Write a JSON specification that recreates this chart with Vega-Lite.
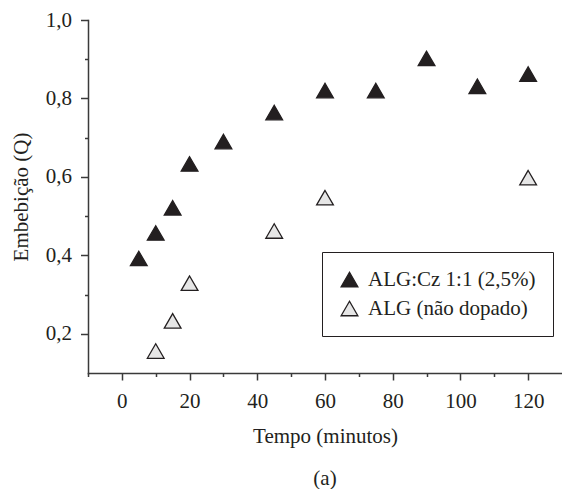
{
  "$schema": "https://vega.github.io/schema/vega-lite/v6.json",
  "autosize": {"type": "none"},
  "padding": {"left": 88, "top": 20, "right": 0, "bottom": 116},
  "width": 474,
  "height": 353,
  "background": "white",
  "title": {
    "text": "(a)",
    "orient": "bottom",
    "anchor": "middle",
    "font": "Liberation Serif",
    "fontSize": 21,
    "fontWeight": "normal",
    "color": "#231f20",
    "offset": 22
  },
  "data": {
    "values": [
      {"t": 5, "Q": 0.392, "serie": "ALG:Cz 1:1 (2,5%)"},
      {"t": 10, "Q": 0.457, "serie": "ALG:Cz 1:1 (2,5%)"},
      {"t": 15, "Q": 0.521, "serie": "ALG:Cz 1:1 (2,5%)"},
      {"t": 20, "Q": 0.633, "serie": "ALG:Cz 1:1 (2,5%)"},
      {"t": 30, "Q": 0.690, "serie": "ALG:Cz 1:1 (2,5%)"},
      {"t": 45, "Q": 0.764, "serie": "ALG:Cz 1:1 (2,5%)"},
      {"t": 60, "Q": 0.820, "serie": "ALG:Cz 1:1 (2,5%)"},
      {"t": 75, "Q": 0.820, "serie": "ALG:Cz 1:1 (2,5%)"},
      {"t": 90, "Q": 0.902, "serie": "ALG:Cz 1:1 (2,5%)"},
      {"t": 105, "Q": 0.831, "serie": "ALG:Cz 1:1 (2,5%)"},
      {"t": 120, "Q": 0.862, "serie": "ALG:Cz 1:1 (2,5%)"},
      {"t": 10, "Q": 0.156, "serie": "ALG (não dopado)"},
      {"t": 15, "Q": 0.233, "serie": "ALG (não dopado)"},
      {"t": 20, "Q": 0.329, "serie": "ALG (não dopado)"},
      {"t": 45, "Q": 0.462, "serie": "ALG (não dopado)"},
      {"t": 60, "Q": 0.547, "serie": "ALG (não dopado)"},
      {"t": 120, "Q": 0.598, "serie": "ALG (não dopado)"}
    ]
  },
  "mark": {
    "type": "point",
    "shape": "triangle-up",
    "filled": true,
    "size": 280,
    "stroke": "#231f20",
    "strokeWidth": 1.3,
    "opacity": 1
  },
  "encoding": {
    "x": {
      "field": "t",
      "type": "quantitative",
      "scale": {"domain": [-10, 130], "nice": false, "zero": false},
      "axis": {
        "title": "Tempo (minutos)",
        "values": [-10, 0, 10, 20, 30, 40, 50, 60, 70, 80, 90, 100, 110, 120],
        "labelExpr": "datum.value % 20 === 0 ? datum.label : ''",
        "tickSize": {"condition": {"test": "datum.value % 20 === 0", "value": 7}, "value": 3.5},
        "grid": false,
        "labelPadding": 10,
        "labelFlush": false,
        "labelOverlap": false,
        "titlePadding": 14
      }
    },
    "y": {
      "field": "Q",
      "type": "quantitative",
      "scale": {"domain": [0.1, 1.0], "nice": false, "zero": false},
      "axis": {
        "title": "Embebição (Q)",
        "values": [0.2, 0.3, 0.4, 0.5, 0.6, 0.7, 0.8, 0.9, 1.0],
        "labelExpr": "round(datum.value * 10) % 2 === 0 ? replace(format(datum.value, '.1f'), '.', ',') : ''",
        "tickSize": {"condition": {"test": "round(datum.value * 10) % 2 === 0", "value": 7.5}, "value": 3.5},
        "grid": false,
        "labelPadding": 9,
        "labelFlush": false,
        "labelOverlap": false,
        "titlePadding": 14
      }
    },
    "fill": {
      "field": "serie",
      "type": "nominal",
      "scale": {
        "domain": ["ALG:Cz 1:1 (2,5%)", "ALG (não dopado)"],
        "range": ["#231f20", "#e6e6e6"]
      },
      "legend": {
        "title": null,
        "orient": "none",
        "legendX": 234,
        "legendY": 232,
        "strokeColor": "#231f20",
        "fillColor": "white",
        "padding": 17,
        "rowPadding": 7,
        "symbolType": "triangle-up",
        "symbolSize": 280,
        "symbolStrokeColor": "#231f20",
        "symbolStrokeWidth": 1.3,
        "labelFont": "Liberation Serif",
        "labelFontSize": 21,
        "labelColor": "#231f20",
        "labelOffset": 8,
        "labelLimit": 400
      }
    }
  },
  "config": {
    "font": "Liberation Serif",
    "view": {"stroke": null},
    "axis": {
      "domainCap": "square",
      "domainColor": "#3a3a3a",
      "domainWidth": 1.5,
      "tickColor": "#3a3a3a",
      "tickWidth": 1.5,
      "labelFont": "Liberation Serif",
      "labelFontSize": 21,
      "labelColor": "#231f20",
      "titleFont": "Liberation Serif",
      "titleFontSize": 21,
      "titleFontWeight": "normal",
      "titleColor": "#231f20"
    }
  }
}
